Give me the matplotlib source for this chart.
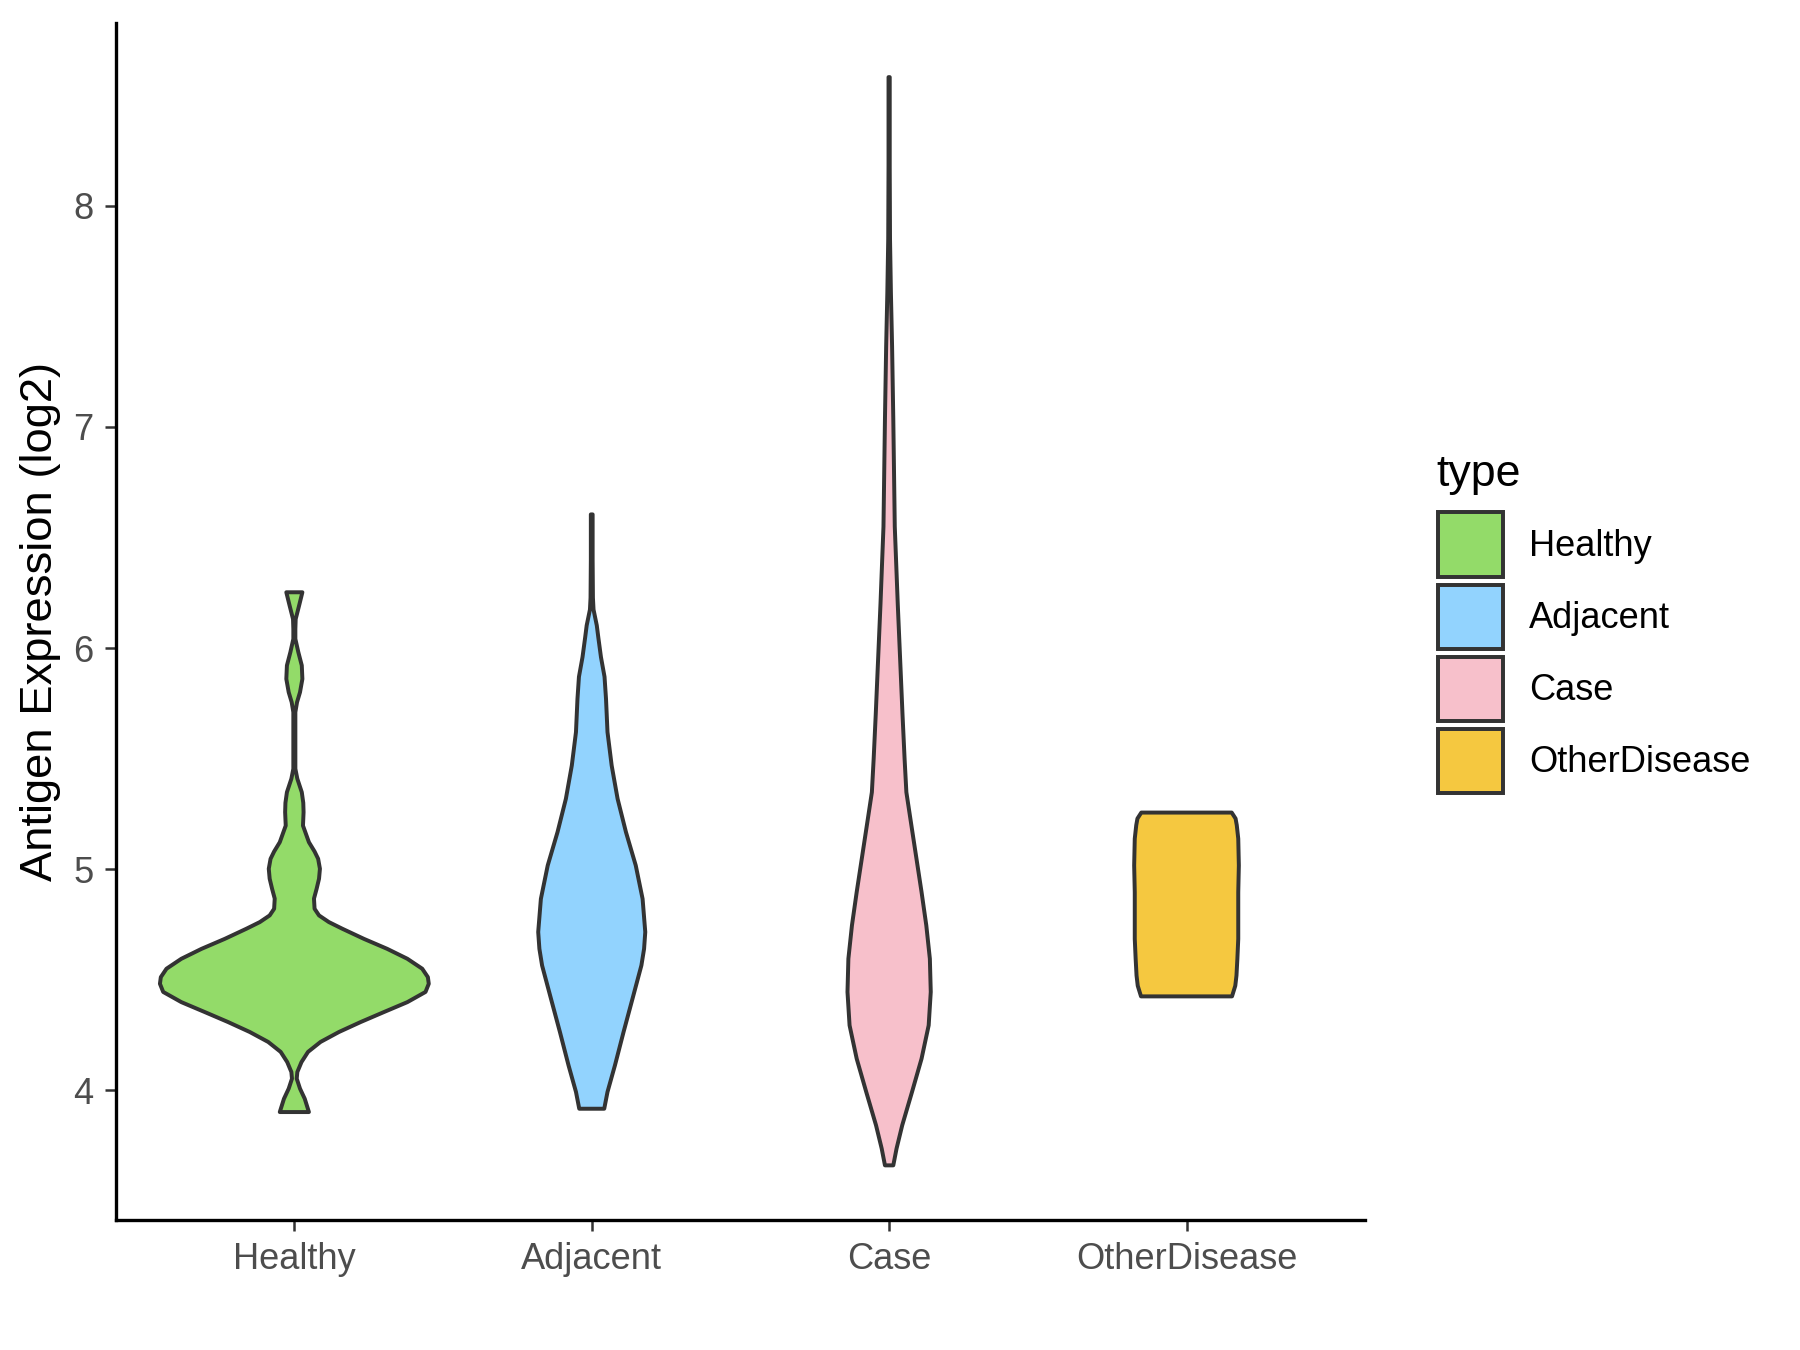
import matplotlib
matplotlib.use("Agg")
import matplotlib.pyplot as plt
from matplotlib.patches import Patch
import numpy as np

plt.rcParams['font.family'] = ['Liberation Sans', 'DejaVu Sans']

categories = ['Healthy', 'Adjacent', 'Case', 'OtherDisease']
colors = ['#93DB69', '#92D3FE', '#F7C0CB', '#F5C840']
yticks = [4, 5, 6, 7, 8]
ylabel = 'Antigen Expression (log2)'
legend_title = 'type'

# Violin outlines: expression level and half-width (x units)
healthy_y = [6.252, 6.192, 6.131, 6.086, 6.041, 5.981, 5.921, 5.860, 5.800, 5.755,
             5.710, 5.454, 5.409, 5.348, 5.300, 5.258, 5.197, 5.122, 5.080, 5.047,
             5.002, 4.957, 4.912, 4.867, 4.821, 4.791, 4.761, 4.731, 4.685, 4.640,
             4.595, 4.550, 4.512, 4.482, 4.445, 4.399, 4.354, 4.309, 4.264, 4.219,
             4.174, 4.128, 4.083, 4.053, 4.008, 3.962, 3.902]
healthy_hw = [0.027, 0.016, 0.0045, 0.0034, 0.0034, 0.0134, 0.025, 0.027, 0.019, 0.009,
              0.0034, 0.0034, 0.010, 0.025, 0.030, 0.031, 0.029, 0.049, 0.068, 0.080,
              0.086, 0.083, 0.075, 0.066, 0.068, 0.083, 0.116, 0.161, 0.234, 0.312,
              0.380, 0.430, 0.449, 0.452, 0.441, 0.380, 0.301, 0.223, 0.150, 0.088,
              0.046, 0.024, 0.010, 0.008, 0.019, 0.035, 0.049]

adjacent_y = [6.604, 6.400, 6.227, 6.174, 6.102, 6.049, 5.959, 5.870, 5.770, 5.620,
              5.469, 5.318, 5.168, 5.017, 4.866, 4.716, 4.640, 4.565, 4.414, 4.264,
              4.113, 3.993, 3.917]
adjacent_hw = [0.003, 0.003, 0.004, 0.006, 0.017, 0.022, 0.031, 0.043, 0.048, 0.053,
               0.067, 0.087, 0.115, 0.148, 0.171, 0.180, 0.176, 0.167, 0.137, 0.107,
               0.078, 0.053, 0.042]

case_y = [8.581, 8.175, 7.850, 7.606, 7.362, 7.037, 6.549, 6.200, 5.888, 5.700,
          5.499, 5.348, 5.197, 5.047, 4.897, 4.746, 4.595, 4.445, 4.294, 4.143,
          3.993, 3.842, 3.737, 3.661]
case_hw = [0.002, 0.002, 0.003, 0.006, 0.010, 0.014, 0.019, 0.029, 0.039, 0.045,
           0.052, 0.058, 0.075, 0.092, 0.109, 0.125, 0.137, 0.140, 0.133, 0.109,
           0.077, 0.044, 0.025, 0.014]

other_y = [5.256, 5.229, 5.199, 5.138, 5.017, 4.896, 4.806, 4.685, 4.594, 4.519,
           4.473, 4.425]
other_hw = [0.152, 0.165, 0.169, 0.174, 0.176, 0.174, 0.174, 0.174, 0.171, 0.168,
            0.164, 0.153]

profiles = [(healthy_y, healthy_hw), (adjacent_y, adjacent_hw),
            (case_y, case_hw), (other_y, other_hw)]

fig = plt.figure(figsize=(12, 9), dpi=150)
ax = fig.add_axes([0.0644, 0.0963, 0.6939, 0.8867])

for i, ((ys, hws), col) in enumerate(zip(profiles, colors)):
    pos = i + 1
    ys = np.asarray(ys)
    hws = np.asarray(hws)
    xs = np.concatenate([pos - hws, (pos + hws)[::-1]])
    yy = np.concatenate([ys, ys[::-1]])
    ax.fill(xs, yy, facecolor=col, edgecolor='#333333', linewidth=1.9,
            joinstyle='round', zorder=2)

ax.set_xlim(0.4, 4.6)
ax.set_ylim(3.414, 8.826)
ax.set_xticks(range(1, 5))
ax.set_xticklabels(categories)
ax.set_yticks(yticks)
ax.set_yticklabels([str(t) for t in yticks])
ax.tick_params(axis='both', labelsize=17.4, labelcolor='#4D4D4D', color='#333333',
               length=5.3, width=1.2, pad=5.3)
for s in ['top', 'right']:
    ax.spines[s].set_visible(False)
for s in ['left', 'bottom']:
    ax.spines[s].set_linewidth(1.6)
    ax.spines[s].set_color('black')
ax.set_ylabel(ylabel, fontsize=21.8, color='black', labelpad=6)

handles = [Patch(facecolor=c, edgecolor='#333333', linewidth=1.9, label=l)
           for c, l in zip(colors, categories)]
leg = fig.legend(handles=handles, loc='upper left',
                 bbox_to_anchor=(0.799, 0.6205), frameon=False, fontsize=17.4,
                 handlelength=1.785, handleheight=2.352,
                 handletextpad=0.73, labelspacing=0.22, borderpad=0,
                 borderaxespad=0)
fig.text(0.7982, 0.6402, legend_title, fontsize=21.5, color='black',
         ha='left', va='baseline')

fig.savefig('out.png', dpi=150)
